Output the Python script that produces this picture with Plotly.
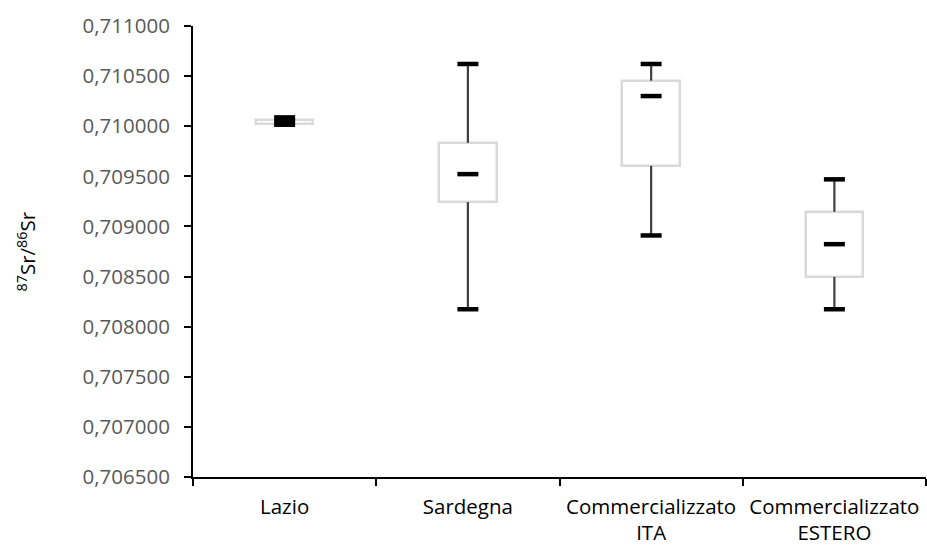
import plotly.graph_objects as go

categories = ["Lazio", "Sardegna", "Commercializzato<br>ITA", "Commercializzato<br>ESTERO"]
mins = [0.710015, 0.708174, 0.708910, 0.708174]
q1s = [0.710022, 0.709243, 0.709605, 0.708497]
medians = [0.710050, 0.709522, 0.710301, 0.708823]
q3s = [0.710062, 0.709834, 0.710454, 0.709146]
maxs = [0.710088, 0.710621, 0.710621, 0.709470]

y_min, y_max, y_step = 0.7065, 0.711, 0.0005

fig = go.Figure()

# boxes (Q1..Q3)
fig.add_trace(go.Bar(
    x=categories,
    y=[b - a for a, b in zip(q1s, q3s)],
    base=q1s,
    width=0.315,
    marker=dict(color="white", line=dict(color="#d9d9d9", width=2.5)),
    hoverinfo="skip",
))

# whiskers
wx, wy = [], []
for c, lo, a, b, hi in zip(categories, mins, q1s, q3s, maxs):
    wx += [c, c, None, c, c, None]
    wy += [b, hi, None, a, lo, None]
fig.add_trace(go.Scatter(
    x=wx, y=wy, mode="lines",
    line=dict(color="#404040", width=2.2),
    hoverinfo="skip",
))

# caps and medians
cap_style = dict(symbol="line-ew", size=15, line=dict(color="black", width=4.5))
fig.add_trace(go.Scatter(x=categories, y=maxs, mode="markers", marker=cap_style, hoverinfo="skip"))
fig.add_trace(go.Scatter(x=categories, y=mins, mode="markers", marker=cap_style, hoverinfo="skip"))
fig.add_trace(go.Scatter(x=categories, y=medians, mode="markers", marker=cap_style, hoverinfo="skip"))

fig.update_layout(
    width=927, height=546,
    margin=dict(l=193, r=1, t=26, b=69),
    paper_bgcolor="white", plot_bgcolor="white",
    showlegend=False,
    separators=",.",
    font=dict(family="Open Sans", size=20.5, color="#000000"),
    bargap=0,
)
fig.update_xaxes(
    type="category",
    range=[-0.5, 3.5],
    showline=True, linecolor="black", linewidth=2,
    ticks="outside", ticklen=7, tickcolor="black", tickwidth=1.5,
    tickson="boundaries",
    showgrid=False, zeroline=False,
    tickfont=dict(family="Open Sans", size=20.5, color="#000000"),
    ticklabelstandoff=10,
    automargin=False,
    fixedrange=True,
)
fig.update_yaxes(
    range=[y_min, y_max],
    tick0=y_min, dtick=y_step,
    tickformat=".6f",
    showline=True, linecolor="black", linewidth=2,
    ticks="outside", ticklen=7, tickcolor="black", tickwidth=1.5,
    showgrid=False, zeroline=False,
    tickfont=dict(family="Open Sans", size=20.5, color="#595959"),
    ticklabelstandoff=10,
    fixedrange=True,
)
fig.add_annotation(
    text="<sup>87</sup>Sr/<sup>86</sup>Sr",
    xref="paper", yref="paper",
    x=(26 - 193) / (927 - 193 - 1), y=0.5,
    xanchor="center", yanchor="middle",
    textangle=-90, showarrow=False,
    font=dict(family="Open Sans", size=20.5, color="#000000"),
)

fig.write_html("out.html")
